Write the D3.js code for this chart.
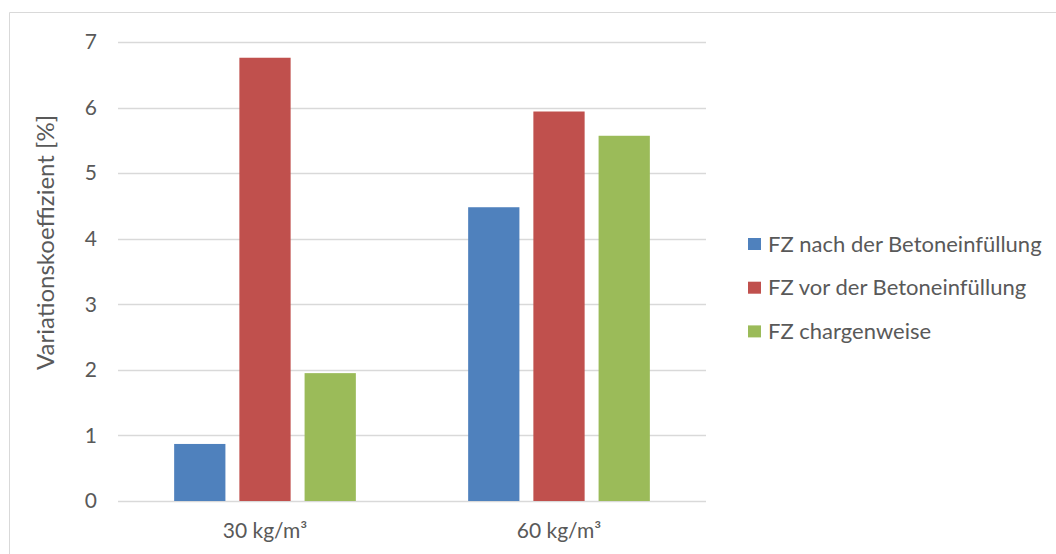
<!DOCTYPE html>
<html>
<head>
<meta charset="utf-8">
<script src="https://cdn.jsdelivr.net/npm/d3@7"></script>
<style>
  html, body { margin: 0; padding: 0; background: #fff; }
  svg { display: block; }
  text { font-family: Lato, "Open Sans", sans-serif; fill: #595959; }
</style>
</head>
<body>
<svg id="chart" width="1056" height="554"></svg>
<script>
// Dosage categories and the three series of coefficients of variation [%]
const categories = ["30 kg/m³", "60 kg/m³"];
const seriesNames = ["FZ nach der Betoneinfüllung", "FZ vor der Betoneinfüllung", "FZ chargenweise"];
const nachBetoneinfuellung = [0.87, 4.48];
const vorBetoneinfuellung = [6.76, 5.94];
const chargenweise = [1.95, 5.57];
const yTicks = [0, 1, 2, 3, 4, 5, 6, 7];
const colors = ["#4F81BD", "#C0504D", "#9BBB59"];

const seriesValues = [nachBetoneinfuellung, vorBetoneinfuellung, chargenweise];
const rows = categories.map((c, i) => ({
  category: c,
  values: seriesNames.map((s, j) => ({ series: s, value: seriesValues[j][i], color: colors[j] }))
}));

const svg = d3.select("#chart");

// chart-area frame (open to the right and bottom)
svg.append("path")
  .attr("d", "M9.5,554 V12.5 H1056")
  .attr("fill", "none")
  .attr("stroke", "#d9d9d9")
  .attr("stroke-width", 1);

const plot = { left: 118, right: 706, top: 42, bottom: 501 };

const x0 = d3.scaleBand().domain(categories)
  .range([plot.left, plot.right])
  .paddingInner(0.382).paddingOuter(0.191);
const x1 = d3.scaleBand().domain(seriesNames)
  .range([0, x0.bandwidth()])
  .paddingInner(0.214).paddingOuter(0);
const y = d3.scaleLinear().domain([0, 7]).range([plot.bottom, plot.top]);

// horizontal gridlines
svg.append("g")
  .selectAll("line")
  .data(yTicks)
  .join("line")
  .attr("x1", plot.left).attr("x2", plot.right)
  .attr("y1", d => Math.round(y(d)) + 0.5).attr("y2", d => Math.round(y(d)) + 0.5)
  .attr("stroke", "#d9d9d9").attr("stroke-width", 1.5);

// y axis tick labels
const yAxis = d3.axisLeft(y).tickValues(yTicks).tickSize(0).tickPadding(0).tickFormat(d3.format("d"));
const gy = svg.append("g").attr("transform", `translate(${plot.left - 21},0)`).call(yAxis);
gy.select(".domain").remove();
gy.selectAll("text").style("font-size", "21px").attr("fill", "#595959")
  .style("font-family", "Lato, 'Open Sans', sans-serif");

// x axis category labels
const xAxis = d3.axisBottom(x0).tickSize(0).tickPadding(0);
const gx = svg.append("g").attr("transform", `translate(0,${plot.bottom + 22})`).call(xAxis);
gx.select(".domain").remove();
gx.selectAll("text").style("font-size", "21px").attr("fill", "#595959")
  .style("font-family", "Lato, 'Open Sans', sans-serif");

// bars
svg.append("g")
  .selectAll("g")
  .data(rows)
  .join("g")
  .attr("transform", d => `translate(${x0(d.category)},0)`)
  .selectAll("rect")
  .data(d => d.values)
  .join("rect")
  .attr("x", d => x1(d.series))
  .attr("y", d => y(d.value))
  .attr("width", x1.bandwidth())
  .attr("height", d => y(0) - y(d.value))
  .attr("fill", d => d.color);

// y axis title
svg.append("text")
  .attr("transform", "translate(54,242.5) rotate(-90)")
  .attr("text-anchor", "middle")
  .style("font-size", "24px")
  .text("Variationskoeffizient [%]");

// legend
const legend = svg.append("g").attr("transform", "translate(748,244)");
const item = legend.selectAll("g")
  .data(seriesNames)
  .join("g")
  .attr("transform", (d, i) => `translate(0,${i * 43.7})`);
item.append("rect")
  .attr("x", 0).attr("y", -6)
  .attr("width", 13).attr("height", 12)
  .attr("fill", (d, i) => colors[i]);
item.append("text")
  .attr("x", 20).attr("y", 0)
  .attr("dy", "0.35em")
  .style("font-size", "22px")
  .text(d => d);
</script>
</body>
</html>
